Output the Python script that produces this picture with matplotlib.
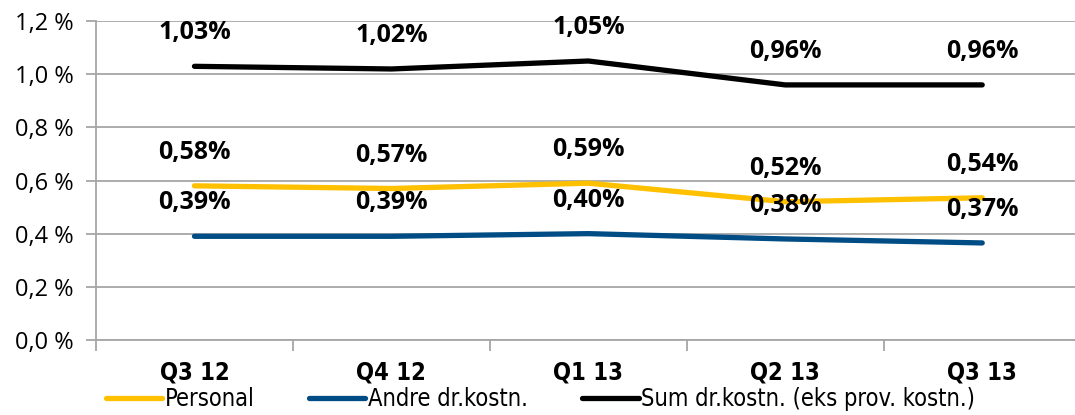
import numpy as np
import matplotlib
matplotlib.use("Agg")
import matplotlib.pyplot as plt

# quarters and cost ratios (% of avg. total assets)
quarters = ["Q3 12", "Q4 12", "Q1 13", "Q2 13", "Q3 13"]
personal = [0.58, 0.57, 0.59, 0.52, 0.535]
andre = [0.39, 0.39, 0.40, 0.38, 0.365]
sum_kost = [1.03, 1.02, 1.05, 0.96, 0.96]
personal_lbl = ["0,58%", "0,57%", "0,59%", "0,52%", "0,54%"]
andre_lbl = ["0,39%", "0,39%", "0,40%", "0,38%", "0,37%"]
sum_lbl = ["1,03%", "1,02%", "1,05%", "0,96%", "0,96%"]
yticks = [0.0, 0.2, 0.4, 0.6, 0.8, 1.0, 1.2]

plt.rcParams['font.family'] = ["Open Sans", "DejaVu Sans"]

fig = plt.figure(figsize=(10.75, 4.15), dpi=100)
ax = fig.add_axes([0.0893, 0.181, 0.916, 0.768])

x = np.arange(len(quarters))
series = [
    (personal, personal_lbl, "#FFC000", "Personal"),
    (andre, andre_lbl, "#004C85", "Andre dr.kostn."),
    (sum_kost, sum_lbl, "black", "Sum dr.kostn. (eks prov. kostn.)"),
]
for vals, lbls, col, name in series:
    ax.plot(x, vals, color=col, lw=3.8, solid_capstyle='round', label=name)
    for xi, v, t in zip(x, vals, lbls):
        ax.annotate(t, (xi, v), xytext=(0, 15), textcoords='offset points',
                    ha='center', va='bottom', fontsize=18, fontweight='bold')

ax.set_xlim(-0.5, 4.5)
ax.set_ylim(0, 1.2)
ax.set_yticks(yticks)
ax.set_yticklabels([f"{v:.1f} %".replace(".", ",") for v in yticks], fontsize=17)
ax.grid(axis='y', color='#a6a6a6', lw=1.3)
ax.set_axisbelow(True)

ax.set_xticks(x)
ax.set_xticklabels(quarters, fontsize=17, fontweight='bold',
                   family='DejaVu Sans', fontstretch='condensed')
ax.tick_params(axis='x', length=0, pad=15)
ax.set_xticks(np.arange(-0.5, 5, 1), minor=True)
ax.tick_params(axis='x', which='minor', length=8, color='#a6a6a6', width=1.3, direction='out')
ax.tick_params(axis='y', length=7, color='#a6a6a6', width=1.3, direction='out', pad=9)

for s in ['top', 'right']:
    ax.spines[s].set_visible(False)
for s in ['left', 'bottom']:
    ax.spines[s].set_color('#a6a6a6')
    ax.spines[s].set_linewidth(1.3)

fig.legend(loc='lower left', bbox_to_anchor=(0.096, 0.004), ncol=3, frameon=False,
           handlelength=2.4, handletextpad=0.1, columnspacing=2.3,
           borderpad=0.1, borderaxespad=0.0,
           prop={'family': 'DejaVu Sans', 'stretch': 'condensed', 'size': 17})

fig.savefig("out.png", dpi=100)
